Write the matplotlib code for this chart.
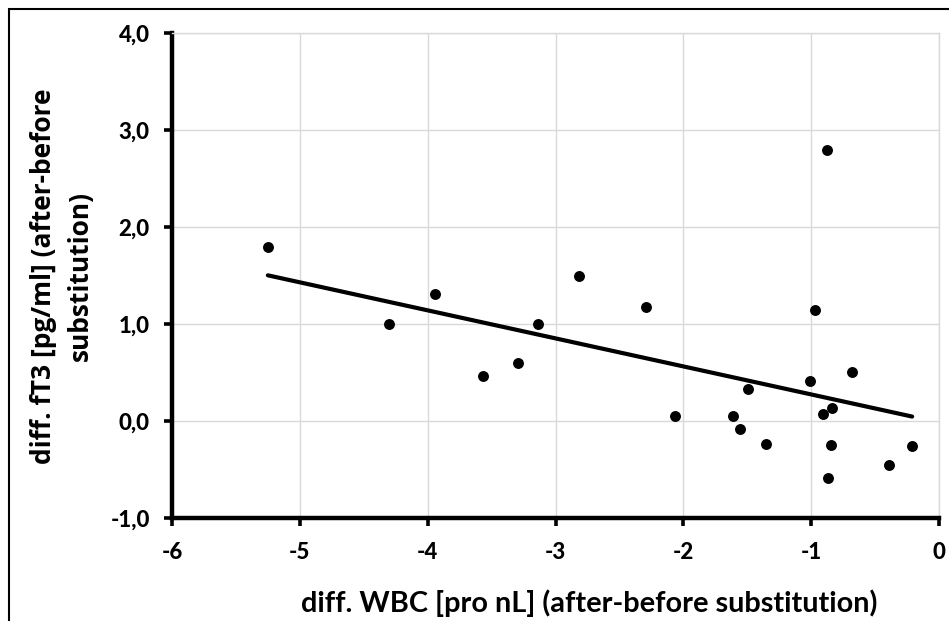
import numpy as np
import matplotlib
matplotlib.use("Agg")
import matplotlib.pyplot as plt
from matplotlib.patches import Rectangle
from matplotlib.font_manager import FontProperties

# ---- data ----
wbc_diff = [-5.25, -4.30, -3.94, -3.57, -3.29, -3.14, -2.82, -2.29, -2.065,
            -1.61, -1.56, -1.495, -1.35, -1.01, -0.97, -0.88, -0.91, -0.84,
            -0.846, -0.87, -0.68, -0.39, -0.21]
ft3_diff = [1.79, 1.00, 1.31, 0.46, 0.60, 1.00, 1.49, 1.18, 0.055,
            0.05, -0.08, 0.33, -0.24, 0.415, 1.14, 2.79, 0.07, 0.13,
            -0.25, -0.59, 0.51, -0.45, -0.26]
x_ticks = [-6, -5, -4, -3, -2, -1, 0]
x_tick_labels = ["-6", "-5", "-4", "-3", "-2", "-1", "0"]
y_ticks = [-1.0, 0.0, 1.0, 2.0, 3.0, 4.0]
y_tick_labels = ["-1,0", "0,0", "1,0", "2,0", "3,0", "4,0"]
x_label = "diff. WBC [pro nL] (after-before substitution)"
y_label = "diff. fT3 [pg/ml] (after-before\nsubstitution)"

W, H = 949, 621
fig = plt.figure(figsize=(W / 100, H / 100), dpi=100)
ax = fig.add_axes([172 / W, 103 / H, 767 / W, 485 / H])

grid_c = "#d9d9d9"
ax.set_xlim(-6, 0)
ax.set_ylim(-1, 4)
ax.tick_params(axis="both", direction="out", length=6, width=2.6, color="black")
ax.tick_params(axis="x", pad=11)
ax.tick_params(axis="y", pad=10)
tick_fp = FontProperties(family=["Lato", "DejaVu Sans"], weight="black", size=16)
ax.set_xticks(x_ticks)
ax.set_xticklabels(x_tick_labels, fontproperties=tick_fp)
ax.set_yticks(y_ticks)
ax.set_yticklabels(y_tick_labels, fontproperties=tick_fp)
ax.grid(True, color=grid_c, linewidth=1.0)
ax.set_axisbelow(True)

for s in ["left", "bottom"]:
    ax.spines[s].set_linewidth(3.2)
    ax.spines[s].set_color("black")
for s in ["right", "top"]:
    ax.spines[s].set_linewidth(1.0)
    ax.spines[s].set_color(grid_c)

ax.scatter(wbc_diff, ft3_diff, s=62, color="black", zorder=3, linewidths=0)

# linear trendline over the data range
xa = np.array(wbc_diff)
ya = np.array(ft3_diff)
k, b = np.polyfit(xa, ya, 1)
xl = np.array([xa.min(), xa.max()])
ax.plot(xl, k * xl + b, color="black", linewidth=3.0, solid_capstyle="round", zorder=2)

fig.text(589 / W, 1 - 603 / H, x_label, ha="center", va="center",
         fontsize=20.8, fontweight="bold", family=["Lato", "DejaVu Sans"])
fig.text(62 / W, 1 - 276 / H, y_label, ha="center", va="center", rotation=90,
         fontsize=19, fontweight="bold", family=["Open Sans", "DejaVu Sans"],
         linespacing=1.45, multialignment="center")

fig.patches.append(Rectangle((9 / W, -0.1), 1.2, (H - 9) / H + 0.1,
                             transform=fig.transFigure, fill=False,
                             edgecolor="black", linewidth=1.5))

fig.savefig("out.png", dpi=100)
